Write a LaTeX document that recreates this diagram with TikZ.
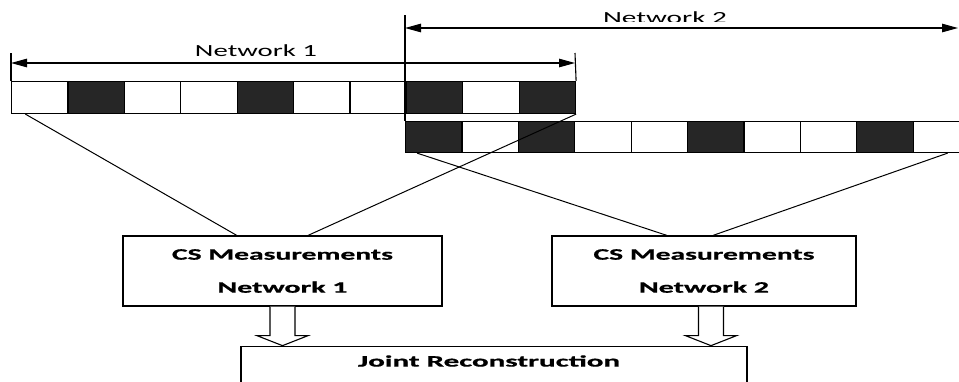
\documentclass[tikz,border=0pt]{standalone}
\usepackage{fontspec}
\setmainfont{Carlito}[BoldFeatures={FakeBold=0.6}]
\usetikzlibrary{arrows.meta,calc}
\definecolor{cellblack}{RGB}{38,38,38}
% stretch a text horizontally to a given width, keeping its height
\newcommand\fitw[2]{\resizebox{#1}{\height}{#2}}
\tikzset{
  hollowarrow/.pic={
    \draw[hollowshape] (-12.5,0) -- (-12.5,29) -- (-25.5,29) -- (0,39)
      -- (25.5,29) -- (12.5,29) -- (12.5,0);
  }
}
\begin{document}
\begin{tikzpicture}[x=1pt,y=-1pt,
  cellbox/.style={draw=black,line width=1.1pt,minimum width=56.4pt,inner sep=0pt,anchor=north west},
  mbox/.style={draw=black,line width=1.3pt,inner sep=0pt,
    font=\bfseries\fontsize{16}{33}\selectfont,align=center},
  linkline/.style={draw=black,line width=1pt},
  dimline/.style={line width=1.1pt,
    {Triangle[length=16pt,width=8.5pt]}-{Triangle[length=16pt,width=8.5pt]}},
  tickline/.style={line width=1.1pt},
  hollowshape/.style={draw=black,line width=1.1pt,fill=white,line join=miter},
  netlabel/.style={font=\fontsize{17}{20}\selectfont,anchor=base,inner sep=0pt}
]
\useasboundingbox (0,0) rectangle (959,381);
\fill[white] (0,0) rectangle (959,381);
\clip (0,0) rectangle (959,381);

% sample rows
\foreach \col [count=\i] in {white,cellblack,white,white,cellblack,white,white,cellblack,white,cellblack}
  \node[cellbox,minimum height=32pt,fill=\col] (c\i) at ({11+56.4*(\i-1)},81) {};
\foreach \col [count=\i] in {cellblack,white,cellblack,white,white,cellblack,white,white,cellblack,white}
  \node[cellbox,minimum height=31pt,fill=\col] (d\i) at ({405+56.4*(\i-1)},121) {};

% extent of network 1
\coordinate (t1) at (11,53);
\coordinate (t2) at (575,53);
\draw[tickline] (t1) -- (c1.north west);
\draw[tickline] (t2) -- (c10.north east);
\draw[dimline] ($(t1)+(0,10)$) -- ($(t2)+(0,10)$);
\node[netlabel] (n1) at (256,56.7) {\fitw{122pt}{Network 1}};

% extent of network 2
\coordinate (t3) at (405,15);
\coordinate (t4) at (959,15);
\draw[tickline] (t3) -- (d1.north west);
\draw[dimline] ($(t3)+(0,13)$) -- ($(t4)+(-1,13)$);
\begin{scope}
  \clip (560,0) rectangle (770,21.5);
  \node[netlabel] (n2) at (665,23.5) {\fitw{124pt}{Network 2}};
\end{scope}

% measurement blocks
\node[mbox,minimum width=319pt,minimum height=70pt] (m1) at (282.5,271)
  {\fitw{221pt}{CS Measurements}\\\fitw{130pt}{Network 1}};
\node[mbox,minimum width=304pt,minimum height=70pt] (m2) at (704,271)
  {\fitw{221pt}{CS Measurements}\\\fitw{130pt}{Network 2}};
\node[mbox,minimum width=506pt,minimum height=70pt,anchor=north] (jr) at (494,346) {};
\node[font=\bfseries\fontsize{16}{20}\selectfont,inner sep=0pt] (jrt) at (489,361)
  {\fitw{262pt}{Joint Reconstruction}};

% sampling lines
\draw[linkline] ($(c1.south west)!0.25!(c1.south east)$) -- ($(m1.north west)!0.357!(m1.north east)$);
\draw[linkline] (c10.south east) -- ($(m1.north west)!0.58!(m1.north east)$);
\draw[linkline] ($(d1.south west)!0.21!(d1.south east)$) -- ($(m2.north west)!0.378!(m2.north east)$);
\draw[linkline] ($(d10.south west)!0.61!(d10.south east)$) -- ($(m2.north west)!0.53!(m2.north east)$);

% flow into the joint reconstruction
\pic at (m1.south) {hollowarrow};
\pic at ($(m2.south)+(7,0)$) {hollowarrow};
\end{tikzpicture}
\end{document}
